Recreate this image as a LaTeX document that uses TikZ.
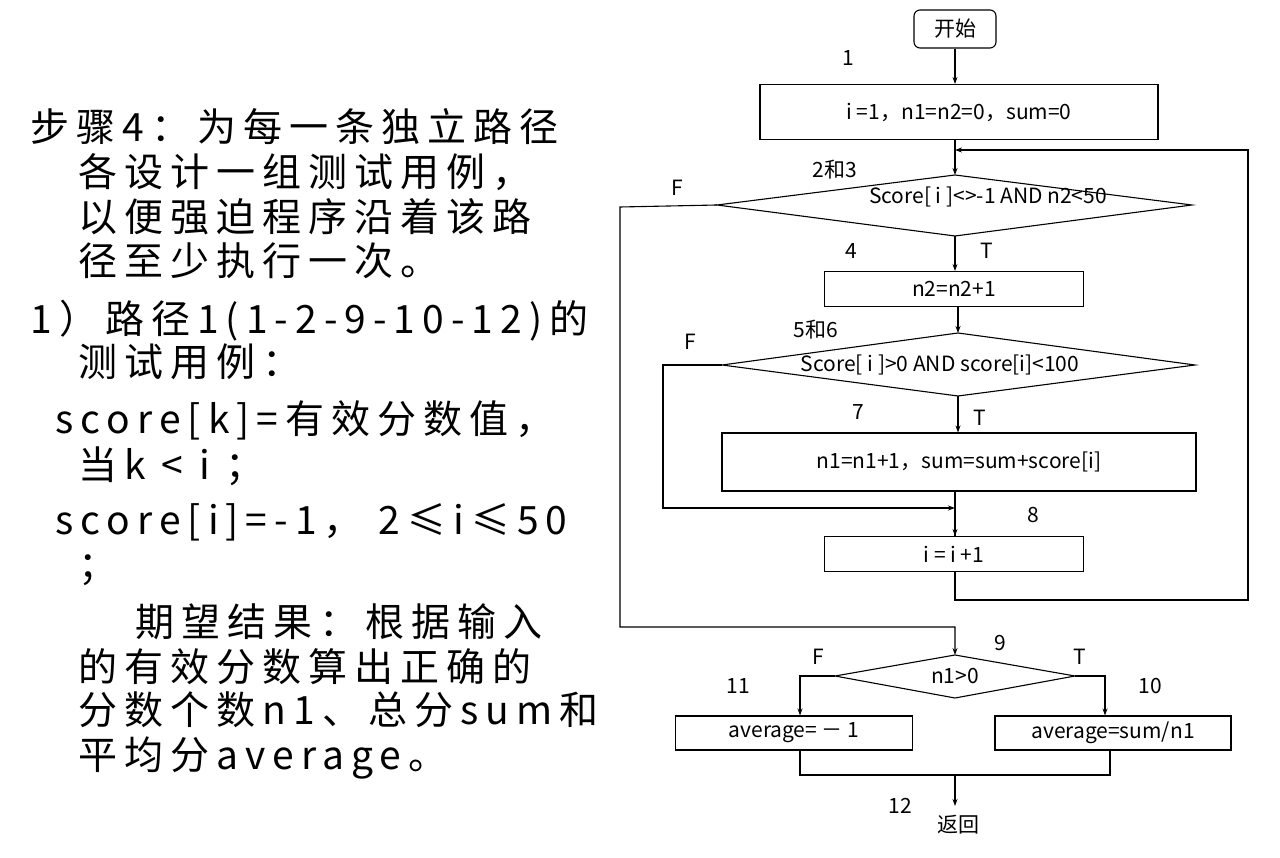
\documentclass[tikz,border=0pt]{standalone}
\usepackage{fontspec}
\setmainfont{Noto Sans CJK SC}
\newfontfamily\widefont[LetterSpace=18]{Noto Sans CJK SC}
\usetikzlibrary{shapes.geometric, arrows.meta}

\begin{document}
\begin{tikzpicture}[x=1pt, y=-1pt, font=\fontsize{21}{24}\selectfont, line width=1.1pt, >={Stealth[length=7pt,width=5pt]},
  procbox/.style={draw, rectangle, inner sep=0pt},
  numlab/.style={inner sep=1pt},
  bigtext/.style={anchor=base west, inner sep=0pt, font=\widefont\fontsize{39}{40}\selectfont}]
\useasboundingbox (0,0) rectangle (1280,858);
% left column text
\node[bigtext] (t1) at (30,142) {步骤4：为每一条独立路径};
\node[bigtext] (t2) at (78,187) {各设计一组测试用例，};
\node[bigtext] (t3) at (78,232) {以便强迫程序沿着该路};
\node[bigtext] (t4) at (78,276) {径至少执行一次。};
\node[bigtext] (t5) at (30,334) {1）路径1(1-2-9-10-12)的};
\node[bigtext] (t6) at (78,377) {测试用例：};
\node[bigtext] (t7) at (55,434) {score[k]=有效分数值，};
\node[bigtext] (t8) at (78,479) {当k < i ；};
\node[bigtext] (t9) at (55,534) {score[i]=-1，\ 2≤i≤50};
\node[bigtext] (t10) at (78,579) {；};
\node[bigtext] (t11) at (135,636) {期望结果：根据输入};
\node[bigtext] (t12) at (78,681) {的有效分数算出正确的};
\node[bigtext] (t13) at (78,724) {分数个数n1、总分sum和};
\node[bigtext] (t14) at (78,769) {平均分average。};
% flowchart
\node[procbox, rounded corners=6pt, minimum width=82pt, minimum height=38pt] (start) at (955,29) {开始};
\node[procbox, minimum width=398pt, minimum height=55pt] (init) at (959,112) {i =1，n1=n2=0，sum=0};
\path[draw] (717,205) coordinate (c1w) -- (955,175) coordinate (c1n) -- (1192,205) -- (955,236) coordinate (c1s) -- cycle;
\node[numlab] (txt1) at (988,197) {Score[ i ]<>-1 AND n2<50};
\node[procbox, minimum width=259pt, minimum height=35pt] (inc2) at (954,289) {n2=n2+1};
\path[draw] (722,365) coordinate (c2w) -- (958,333) coordinate (c2n) -- (1195,365) -- (958,396) coordinate (c2s) -- cycle;
\node[numlab] (txt2) at (940,365) {Score[ i ]>0 AND score[i]<100};
\node[procbox, minimum width=474pt, minimum height=58pt] (acc) at (959,462) {n1=n1+1，sum=sum+score[i]};
\node[procbox, minimum width=259pt, minimum height=35pt] (inci) at (954,554) {i = i +1};
\path[draw] (835,676) coordinate (c3w) -- (955,655) coordinate (c3n) -- (1075,676) coordinate (c3e) -- (955,698) -- cycle;
\node[numlab] (txt3) at (955,676) {n1>0};
\node[procbox, minimum width=237pt, minimum height=34pt] (neg) at (794,733) {average= － 1};
\node[procbox, minimum width=236pt, minimum height=34pt] (avg) at (1113,733) {average=sum/n1};
\node[numlab] (ret) at (958,825) {返回};
% step labels
\node[numlab] (l1) at (848,58) {1};
\node[numlab] (l23) at (835,170) {2和3};
\node[numlab] (f1) at (677,188) {F};
\node[numlab] (l4) at (851,251) {4};
\node[numlab] (tt1) at (987,251) {T};
\node[numlab] (l56) at (816,330) {5和6};
\node[numlab] (f2) at (690,342) {F};
\node[numlab] (l7) at (858,412) {7};
\node[numlab] (tt2) at (980,418) {T};
\node[numlab] (l8) at (1033,515) {8};
\node[numlab] (l9) at (1000,643) {9};
\node[numlab] (f3) at (818,657) {F};
\node[numlab] (tt3) at (1080,657) {T};
\node[numlab] (l11) at (738,686) {11};
\node[numlab] (l10) at (1150,686) {10};
\node[numlab] (l12) at (900,806) {12};
% connectors
\draw[->] (start) -- (start |- init.north);
\draw[->] (init.south -| c1s) -- (c1n);
\draw[->] (c1s) -- (inc2.north -| c1s);
\draw[->] (inc2.south -| c2n) -- (c2n);
\draw[->] (c2s) -- (acc.north -| c2s);
\draw (acc.south -| c1s) -- (inci.north -| c1s);
\draw[->] (c2w) -- (663,365) -- (663,508) -- (955,508);
\draw[->] (955,508) -- (inci.north -| c1s);
\draw[->] (inci.south -| c1s) -- (955,600) -- (1248,600) -- (1248,150) -- (955,150);
\draw[->] (c1w) -- (620,207) -- (620,627) -- (955,627) -- (c3n);
\draw[->] (c3w) -- (800,676) -- (neg.north -| 800,0);
\draw[->] (c3e) -- (1105,676) -- (avg.north -| 1105,0);
\draw (neg.south -| 800,0) -- (800,775) -- (1110,775) -- (avg.south -| 1110,0);
\draw[->] (955,775) -- (955,806);
\end{tikzpicture}
\end{document}
